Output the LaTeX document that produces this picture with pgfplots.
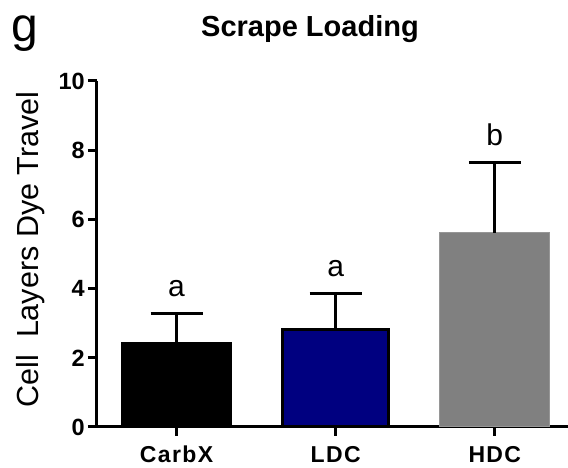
\documentclass[border=0pt]{standalone}
\usepackage{pgfplots}
\pgfplotsset{compat=1.18}
\usepackage{fontspec}
\setmainfont{Liberation Sans}
\definecolor{ldc}{RGB}{0,0,128}
\definecolor{hdc}{RGB}{128,128,128}
\definecolor{hdcedge}{RGB}{150,150,150}
\begin{document}
\begin{tikzpicture}
\useasboundingbox (-97pt,-41pt) rectangle (471pt,427pt);
\begin{axis}[
  at={(0pt,0pt)}, anchor=south west,
  scale only axis, width=471pt, height=346pt,
  axis x line=bottom, axis y line=left,
  axis line style={line width=3pt, -},
  xmin=-0.5, xmax=2.46, ymin=0, ymax=10,
  xtick={0,1,2}, xticklabels={CarbX,LDC,HDC},
  ytick={0,2,4,6,8,10},
  tick align=outside, major tick length=9pt,
  tick style={line width=3pt, black},
  /pgf/number format/assume math mode=true,
  yticklabel style={font=\bfseries\fontsize{23.5}{23.5}\selectfont, inner sep=0pt, anchor=east, xshift=-3pt},
  xticklabel style={font=\bfseries\fontsize{23}{23}\selectfont\addfontfeature{LetterSpace=6}, inner sep=0pt, anchor=base, yshift=-27pt},
  ylabel={Cell\ \ Layers Dye Travel},
  every axis y label/.style={at={(axis description cs:-0.1401,0.513)}, rotate=90, anchor=center, font=\fontsize{30.5}{30.5}\selectfont},
  clip=false,
]
\addplot[ybar, bar shift=0pt, bar width=0.68, fill=black, draw=black, line width=2pt,
  error bars/.cd, y dir=plus, y explicit,
  error bar style={line width=3pt, black},
  error mark options={rotate=90, line width=3pt, mark size=26pt, black}]
  coordinates {(0,2.44) +- (0,0.84)};
\addplot[ybar, bar shift=0pt, bar width=0.67, fill=ldc, draw=black, line width=3pt,
  error bars/.cd, y dir=plus, y explicit,
  error bar style={line width=3pt, black},
  error mark options={rotate=90, line width=3pt, mark size=26pt, black}]
  coordinates {(1,2.81) +- (0,1.04)};
\addplot[ybar, bar shift=0pt, bar width=0.69, fill=hdc, draw=hdcedge, line width=1pt,
  error bars/.cd, y dir=plus, y explicit,
  error bar style={line width=3pt, black},
  error mark options={rotate=90, line width=3pt, mark size=26pt, black}]
  coordinates {(2,5.61) +- (0,2.03)};
\node[anchor=base, font=\fontsize{30}{30}\selectfont, yshift=17pt] at (axis cs:0,3.28) {a};
\node[anchor=base, font=\fontsize{30}{30}\selectfont, yshift=17pt] at (axis cs:1,3.85) {a};
\node[anchor=base, font=\fontsize{30}{30}\selectfont, yshift=17pt] at (axis cs:2,7.64) {b};
\end{axis}
\node[anchor=base, font=\bfseries\fontsize{29}{29}\selectfont, inner sep=0pt] at (213pt,390pt) {Scrape Loading};
\node[anchor=base west, font=\fontsize{48}{48}\selectfont, inner sep=0pt] at (-86pt,385pt) {g};
\end{tikzpicture}
\end{document}
